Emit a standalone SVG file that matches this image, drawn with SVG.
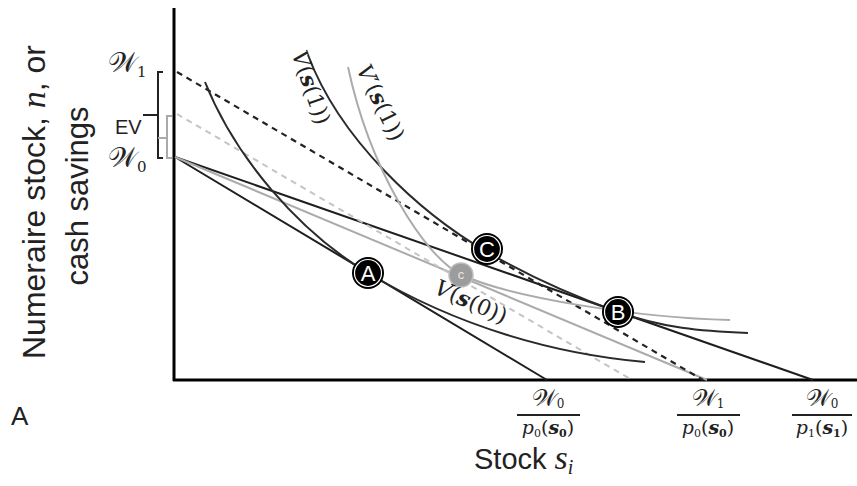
<svg xmlns="http://www.w3.org/2000/svg" width="857" height="486" viewBox="0 0 857 486">
<style>
.ax{stroke:#000;stroke-width:3;fill:none}
.blk{stroke:#1e1e1e;stroke-width:2;fill:none}
.crv{stroke:#2a2a2a;stroke-width:2;fill:none}
.gry{stroke:#ababab;stroke-width:2;fill:none}
.dsh{stroke:#222;stroke-width:2.2;fill:none;stroke-dasharray:6 5}
.gdsh{stroke:#c4c4c4;stroke-width:2;fill:none;stroke-dasharray:6 5}
.brk{stroke:#222;stroke-width:2;fill:none}
.gbrk{stroke:#aaa;stroke-width:2;fill:none}
.sans{font-family:"Liberation Sans",Arial,sans-serif;fill:#222}
.math{font-family:"DejaVu Serif","Liberation Serif",serif;fill:#222}
.it{font-family:"Liberation Serif",serif;font-style:italic}
.node circle.o{fill:#000}
.node circle.r{fill:none;stroke:#fff;stroke-width:1.2}
.node text{font-family:"Liberation Sans",Arial,sans-serif;font-size:22px;fill:#fff;text-anchor:middle}
</style>

<!-- axes -->
<g id="axes">
<line class="ax" x1="174" y1="8" x2="174" y2="381"/>
<line class="ax" x1="173" y1="380" x2="857" y2="380"/>
</g>

<g id="connectors">
<!-- budget lines -->
<line class="blk" x1="175" y1="157" x2="547" y2="380"/>
<line class="blk" x1="175" y1="157" x2="813" y2="380"/>
<line class="gry" x1="175" y1="157" x2="707" y2="380"/>
<line class="dsh" x1="177" y1="72" x2="703" y2="380"/>
<line class="gdsh" x1="177" y1="114" x2="632" y2="380"/>
<!-- indifference curve through A -->
<path class="crv" d="M205,82 C235,157 298,231 368,273 C458,327 555,354 645,362"/>
<!-- V(s(1)) -->
<path class="crv" d="M308,55 C340,140 420,213 487,252 C532,278 573,296 618,312 C663,328 700,331 748,333"/>
<!-- V'(s(1)) -->
<path class="gry" d="M348,67 C370,170 425,258 462,275 C512,298 640,318 730,320"/>
</g>

<!-- brackets -->
<g id="brackets">
<path class="brk" d="M163,72 H158 V158 H163 M158,115 H143"/>
<path class="gbrk" d="M172,116 H167 V158 H172 M167,138 H158"/>
</g>

<!-- nodes -->
<g id="nodeA" class="node">
<circle class="o" cx="368" cy="273" r="16"/><circle class="r" cx="368" cy="273" r="13.5"/>
<text x="368" y="281">A</text>
</g>
<g id="nodeB" class="node">
<circle class="o" cx="618" cy="312" r="16"/><circle class="r" cx="618" cy="312" r="13.5"/>
<text x="618" y="320">B</text>
</g>
<g id="nodeC" class="node">
<circle class="o" cx="487" cy="249" r="16"/><circle class="r" cx="487" cy="249" r="13.5"/>
<text x="487" y="257">C</text>
</g>
<g id="nodec">
<circle cx="461" cy="275" r="12" fill="#9c9c9c" stroke="#bdbdbd" stroke-width="1.5"/>
<text x="461" y="279" font-family="Liberation Sans,Arial,sans-serif" font-size="13" fill="#e8e8e8" text-anchor="middle">c</text>
</g>

<!-- curve labels -->
<g id="labels">
<text class="math" font-size="22" text-anchor="middle" transform="translate(304,90) rotate(71)"><tspan font-style="italic">V</tspan>(<tspan font-style="italic" font-weight="bold">s</tspan>(1))</text>
<text class="math" font-size="22" text-anchor="middle" transform="translate(374,106) rotate(64)"><tspan font-style="italic">V</tspan>′(<tspan font-style="italic" font-weight="bold">s</tspan>(1))</text>
<text class="math" font-size="22" transform="translate(433,293) rotate(24)"><tspan font-style="italic">V</tspan>(<tspan font-style="italic" font-weight="bold">s</tspan>(0))</text>

<!-- y-axis W labels -->
<text class="math" font-size="28" x="108" y="72">𝒲<tspan font-size="15" dy="5">1</tspan></text>
<text class="math" font-size="28" x="108" y="167">𝒲<tspan font-size="15" dy="5">0</tspan></text>
<text class="sans" font-size="20" x="115" y="134">EV</text>

<!-- x-axis fraction labels -->
<g class="math" font-size="19" text-anchor="middle">
<text x="548" y="406"><tspan font-size="24">𝒲</tspan><tspan font-size="12" dy="2">0</tspan></text>
<line x1="517" y1="415" x2="580" y2="415" stroke="#222" stroke-width="2"/>
<text x="548" y="434"><tspan font-style="italic">p</tspan><tspan font-size="11" dy="3">0</tspan><tspan dy="-3">(</tspan><tspan font-style="italic" font-weight="bold">s</tspan><tspan font-size="11" font-weight="bold" dy="3">0</tspan><tspan dy="-3">)</tspan></text>

<text x="708" y="406"><tspan font-size="24">𝒲</tspan><tspan font-size="12" dy="2">1</tspan></text>
<line x1="677" y1="415" x2="740" y2="415" stroke="#222" stroke-width="2"/>
<text x="708" y="434"><tspan font-style="italic">p</tspan><tspan font-size="11" dy="3">0</tspan><tspan dy="-3">(</tspan><tspan font-style="italic" font-weight="bold">s</tspan><tspan font-size="11" font-weight="bold" dy="3">0</tspan><tspan dy="-3">)</tspan></text>

<text x="822" y="406"><tspan font-size="24">𝒲</tspan><tspan font-size="12" dy="2">0</tspan></text>
<line x1="792" y1="415" x2="852" y2="415" stroke="#222" stroke-width="2"/>
<text x="822" y="434"><tspan font-style="italic">p</tspan><tspan font-size="11" dy="3">1</tspan><tspan dy="-3">(</tspan><tspan font-style="italic" font-weight="bold">s</tspan><tspan font-size="11" font-weight="bold" dy="3">1</tspan><tspan dy="-3">)</tspan></text>
</g>

<!-- axis titles -->
<text class="sans" font-size="29" x="474" y="469">Stock <tspan class="it" font-size="34">s</tspan><tspan class="it" font-size="20" dy="5">i</tspan></text>
<text class="sans" font-size="32" text-anchor="middle" transform="translate(45,202) rotate(-90)">Numeraire stock, <tspan class="it" font-size="34">n</tspan>, or</text>
<text class="sans" font-size="31" text-anchor="middle" transform="translate(88,196) rotate(-90)">cash savings</text>
<text class="sans" font-size="26" x="11" y="425">A</text>
</g>
</svg>
